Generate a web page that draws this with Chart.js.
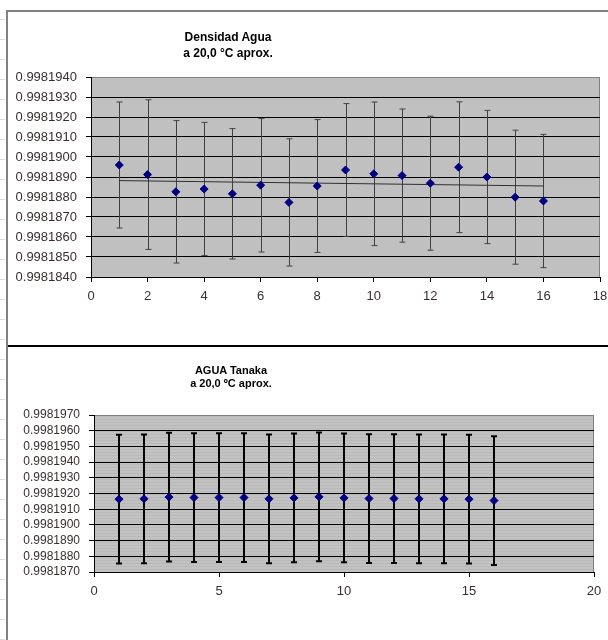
<!DOCTYPE html>
<html>
<head>
<meta charset="utf-8">
<script src="https://cdn.jsdelivr.net/npm/chart.js@4"></script>
<style>
  body { margin: 0; background: #fff; font-family: "Liberation Sans", Arial, sans-serif; }
  #page { position: relative; width: 608px; height: 640px; overflow: hidden; }
  canvas { position: absolute; left: 0; }
  .line { position: absolute; z-index: 2; }
  .title { position: absolute; z-index: 2; font-weight: bold; color: #000; text-align: center; width: 200px; white-space: nowrap; }
  .rows { position: absolute; left: 0; top: 0; width: 5px; height: 640px;
    background: repeating-linear-gradient(to bottom, transparent 0, transparent 19px, #dde 19px, #dde 20px); }
</style>
</head>
<body>
<div id="page">
  <div class="rows"></div>
  <div class="line" style="left:6px;top:10px;width:602px;height:2px;background:#808080"></div>
  <div class="line" style="left:6px;top:10px;width:2px;height:630px;background:#808080"></div>
  <div class="line" style="left:8px;top:345px;width:600px;height:2px;background:#000"></div>

  <div class="title" style="left:128px;top:29px;font-size:12px;line-height:16px">Densidad Agua<br>a 20,0 °C aprox.</div>
  <div class="title" style="left:131px;top:364px;font-size:11px;line-height:13px">AGUA Tanaka<br>a 20,0 ºC aprox.</div>

  <canvas id="chart1" width="608" height="340" style="top:0"></canvas>
  <canvas id="chart2" width="608" height="292" style="top:348px"></canvas>
</div>
<script>
// mediciones 1..16
const muestras = [1, 2, 3, 4, 5, 6, 7, 8, 9, 10, 11, 12, 13, 14, 15, 16];

// grafico 1: Densidad Agua
const densidad = [0.9981896, 0.99818912, 0.99818826, 0.9981884, 0.99818816, 0.99818859, 0.99818773, 0.99818855,
  0.99818935, 0.99818916, 0.99818907, 0.99818869, 0.99818949, 0.998189, 0.99818799, 0.9981878];
const errDensidad = [0.00000315, 0.00000374, 0.00000356, 0.00000333, 0.00000326, 0.00000334, 0.00000318, 0.00000332,
  0.00000332, 0.00000359, 0.00000333, 0.00000335, 0.00000327, 0.00000333, 0.00000335, 0.00000333];
const tendenciaX = [1, 16];
const tendenciaY = [0.99818882, 0.99818855];
const yTicks1 = [0.998184, 0.998185, 0.998186, 0.998187, 0.998188, 0.998189, 0.99819, 0.998191, 0.998192, 0.998193, 0.998194];
const xTicks1 = [0, 2, 4, 6, 8, 10, 12, 14, 16, 18];

// grafico 2: AGUA Tanaka
const tanaka = [0.99819164, 0.99819166, 0.99819177, 0.99819174, 0.99819174, 0.99819174, 0.99819166, 0.99819172,
  0.99819179, 0.99819172, 0.99819168, 0.99819168, 0.99819166, 0.99819166, 0.99819164, 0.99819155];
const errTanaka = [0.0000041, 0.0000041, 0.0000041, 0.0000041, 0.0000041, 0.0000041, 0.0000041, 0.0000041,
  0.0000041, 0.0000041, 0.0000041, 0.0000041, 0.0000041, 0.0000041, 0.0000041, 0.0000041];
const yTicks2 = [0.998187, 0.998188, 0.998189, 0.99819, 0.998191, 0.998192, 0.998193, 0.998194, 0.998195, 0.998196, 0.998197];
const xTicks2 = [0, 5, 10, 15, 20];

const FONT = "'Liberation Sans', Arial, sans-serif";
const LABEL = '#3a2f2f';

const plotBg = {
  id: 'plotBg',
  beforeDraw(chart, args, opts) {
    const { ctx, chartArea: a } = chart;
    ctx.save();
    ctx.fillStyle = opts.fill;
    ctx.fillRect(a.left, a.top, a.width, a.height);
    ctx.strokeStyle = '#808080';
    ctx.lineWidth = 1;
    ctx.strokeRect(a.left + 0.5, a.top + 0.5, a.width - 1, a.height);
    ctx.restore();
  }
};

const errorBars = {
  id: 'errorBars',
  beforeDatasetsDraw(chart, args, opts) {
    const { ctx, scales: { x, y } } = chart;
    const pts = chart.data.datasets[0].data;
    ctx.save();
    ctx.strokeStyle = opts.color;
    ctx.lineWidth = opts.width;
    pts.forEach((p, i) => {
      const px = Math.round(x.getPixelForValue(p.x)) + (opts.width % 2 ? 0.5 : 0);
      const top = y.getPixelForValue(p.y + opts.errors[i]);
      const bot = y.getPixelForValue(p.y - opts.errors[i]);
      ctx.beginPath();
      ctx.moveTo(px, top);
      ctx.lineTo(px, bot);
      ctx.moveTo(px - opts.cap, top);
      ctx.lineTo(px + opts.cap, top);
      ctx.moveTo(px - opts.cap, bot);
      ctx.lineTo(px + opts.cap, bot);
      ctx.stroke();
    });
    ctx.restore();
  }
};

function stripes() {
  const c = document.createElement('canvas');
  c.width = 4; c.height = 3;
  const g = c.getContext('2d');
  g.fillStyle = '#c2c2c2'; g.fillRect(0, 0, 4, 3);
  g.fillStyle = '#b9b9b9'; g.fillRect(0, 2, 4, 1);
  return g.createPattern(c, 'repeat');
}

function makeChart(id, cfg) {
  const pts = cfg.values.map((v, i) => ({ x: muestras[i], y: v }));
  const datasets = [{
    data: pts,
    showLine: false,
    pointStyle: 'rectRot',
    pointRadius: 4,
    pointBackgroundColor: '#000080',
    pointBorderColor: '#000080',
    pointBorderWidth: 1
  }];
  if (cfg.trend) {
    datasets.push({
      data: cfg.trend.x.map((v, i) => ({ x: v, y: cfg.trend.y[i] })),
      showLine: true,
      borderColor: '#303030',
      borderWidth: 1,
      pointRadius: 0
    });
  }
  return new Chart(document.getElementById(id), {
    type: 'scatter',
    data: { datasets },
    options: {
      responsive: false,
      animation: false,
      layout: { padding: cfg.padding },
      plugins: {
        legend: { display: false },
        tooltip: { enabled: false },
        plotBg: { fill: cfg.fill },
        errorBars: { errors: cfg.errors, color: cfg.barColor, width: cfg.barWidth, cap: 3 }
      },
      scales: {
        x: {
          type: 'linear',
          min: cfg.xTicks[0],
          max: cfg.xTicks[cfg.xTicks.length - 1],
          afterFit(s) { s.height = 30; s.paddingLeft = 0; s.paddingRight = 0; },
          afterBuildTicks(s) { s.ticks = cfg.xTicks.map(v => ({ value: v })); },
          border: { color: '#000', width: 1 },
          grid: { drawOnChartArea: false, tickLength: 5, color: '#000', tickColor: '#000' },
          ticks: { color: LABEL, padding: 7, autoSkip: false, maxRotation: 0, font: { family: FONT, size: 13 } }
        },
        y: {
          min: cfg.yTicks[0],
          max: cfg.yTicks[cfg.yTicks.length - 1],
          afterFit(s) { s.width = cfg.yWidth; },
          afterBuildTicks(s) { s.ticks = cfg.yTicks.map(v => ({ value: v })); },
          border: { color: '#000', width: 1 },
          grid: {
            tickLength: 5,
            tickColor: '#000',
            color: (c) => c.index === cfg.yTicks.length - 1 ? '#808080' : '#000'
          },
          ticks: {
            color: LABEL,
            padding: 9,
            autoSkip: false,
            font: { family: FONT, size: cfg.ySize },
            callback: (v) => Number(v).toFixed(7)
          }
        }
      }
    },
    plugins: [plotBg, errorBars]
  });
}

document.addEventListener('DOMContentLoaded', () => {
  makeChart('chart1', {
    values: densidad,
    errors: errDensidad,
    trend: { x: tendenciaX, y: tendenciaY },
    yTicks: yTicks1,
    xTicks: xTicks1,
    yWidth: 91,
    ySize: 13,
    padding: { top: 77, left: 0, right: 8, bottom: 33 },
    fill: '#c0c0c0',
    barColor: '#404040',
    barWidth: 1
  });

  makeChart('chart2', {
    values: tanaka,
    errors: errTanaka,
    trend: null,
    yTicks: yTicks2,
    xTicks: xTicks2,
    yWidth: 94,
    ySize: 12,
    padding: { top: 67, left: 0, right: 14, bottom: 38 },
    fill: stripes(),
    barColor: '#000',
    barWidth: 2
  });
});
</script>
</body>
</html>
